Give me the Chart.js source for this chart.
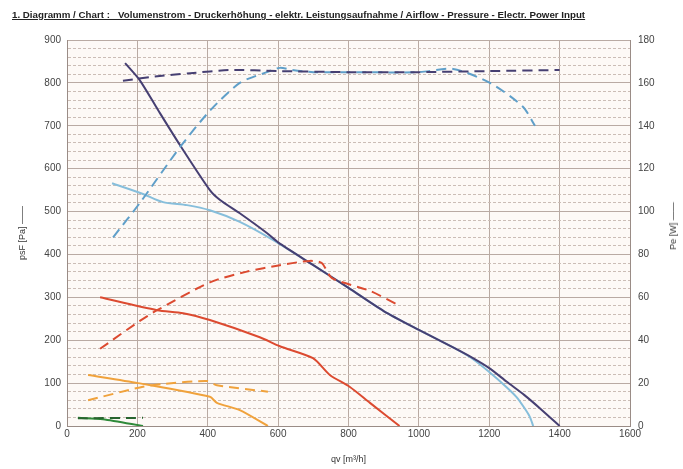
<!DOCTYPE html>
<html>
<head>
<meta charset="utf-8">
<script src="https://cdn.jsdelivr.net/npm/chart.js@4.4.1/dist/chart.umd.min.js"></script>
<style>
  body { margin: 0; background: #fff; }
  #wrap { position: relative; width: 683px; height: 469px; overflow: hidden; }
  #title { position: absolute; left: 12px; top: 10px; font: bold 9px "Liberation Sans", Arial, sans-serif;
           color: #222; text-decoration: underline; white-space: pre; transform-origin: 0 0; }
  #pe { position: absolute; left: 673px; top: 226px; font: 9px "Liberation Sans", Arial, sans-serif; color: #333;
        white-space: pre; transform: translate(-50%, -50%) rotate(-90deg); }
</style>
</head>
<body>
<div id="wrap">
  <div id="title">1. Diagramm / Chart :   Volumenstrom - Druckerhöhung - elektr. Leistungsaufnahme / Airflow - Pressure - Electr. Power Input</div>
  <canvas id="myChart" width="683" height="469"></canvas>
  <div id="pe">Pe [W] ——</div>
</div>
<script>
// pressure curves (left axis, psF [Pa])
const qNavy = [165, 207, 260, 321, 406, 435, 491, 568, 600, 700, 800, 900, 1000, 1100, 1150, 1200, 1250, 1300, 1350, 1400];
const pNavy = [846, 806, 735, 655, 550, 527, 496, 450, 428, 375, 322, 268, 224, 182, 160, 135, 103, 72, 37, 0];
const qLight = [128, 216, 273, 341, 406, 491, 585, 700, 800, 900, 1000, 1100, 1150, 1200, 1250, 1277, 1300, 1315, 1325];
const pLight = [566, 541, 522, 515, 503, 476, 434, 375, 322, 268, 224, 182, 158, 126, 90, 68, 42, 22, 0];
const qRed = [94, 256, 330, 406, 548, 605, 699, 747, 804, 861, 945];
const pRed = [300, 270, 263, 247, 207, 186, 158, 119, 91, 54, 0];
const qOrange = [60, 202, 406, 426, 491, 571];
const pOrange = [119, 100, 68, 54, 37, 0];
const qGreen = [31, 102, 216];
const pGreen = [19, 16, 0];

// power curves (right axis, Pe [W])
const qNavyW = [159, 250, 350, 463, 600, 800, 1000, 1200, 1400];
const wNavy = [161, 163, 164.5, 166, 165.5, 165, 165, 165.5, 166];
const qLightW = [131, 207, 321, 406, 491, 568, 605, 640, 700, 800, 1000, 1097, 1202, 1295, 1330];
const wLight = [88, 104, 130, 147, 160, 165, 167, 166, 165, 165, 165, 166.5, 160, 149, 140];
const qRedW = [94, 207, 256, 406, 511, 605, 690, 724, 753, 861, 946];
const wRed = [36, 49, 54, 67, 72, 75, 77, 76, 69, 63, 56];
const qOrangeW = [60, 207, 273, 398, 426, 571];
const wOrange = [12, 18, 19.6, 21, 19, 16];
const qGreenW = [31, 216];
const wGreen = [3.6, 3.8];

function pts(xs, ys) { return xs.map((x, i) => ({ x: x, y: ys[i] })); }

function line(xs, ys, color, axis, dashed) {
  return {
    data: pts(xs, ys), borderColor: color, backgroundColor: color, yAxisID: axis,
    borderWidth: 2, pointRadius: 0, tension: 0.25, fill: false,
    borderDash: dashed ? [10, 6] : []
  };
}

// title squeeze to reference width
const t = document.getElementById('title');
t.style.transform = 'scaleX(' + (573 / t.offsetWidth) + ')';

const areaBg = {
  id: 'areaBg',
  beforeDraw(chart) {
    const a = chart.chartArea, c = chart.ctx;
    c.save(); c.fillStyle = '#fdf9f6'; c.fillRect(a.left, a.top, a.right - a.left, a.bottom - a.top); c.restore();
  }
};

const font = { family: '"Liberation Sans", Arial, sans-serif', size: 10 };

new Chart(document.getElementById('myChart'), {
  type: 'line',
  data: {
    datasets: [
      line(qNavyW, wNavy, '#463f72', 'y2', true),
      line(qLightW, wLight, '#5f9fc9', 'y2', true),
      line(qRedW, wRed, '#dc4a30', 'y2', true),
      line(qOrangeW, wOrange, '#f0a23c', 'y2', true),
      line(qGreenW, wGreen, '#27642e', 'y2', true),
      line(qNavy, pNavy, '#463f72', 'y', false),
      line(qLight, pLight, '#86bedb', 'y', false),
      line(qRed, pRed, '#dc4a30', 'y', false),
      line(qOrange, pOrange, '#f0a23c', 'y', false),
      line(qGreen, pGreen, '#2f8a3a', 'y', false)
    ]
  },
  options: {
    responsive: false,
    animation: false,
    layout: { padding: { top: 40, left: 17, right: 0, bottom: 0 } },
    plugins: { legend: { display: false }, tooltip: { enabled: false } },
    scales: {
      x: {
        type: 'linear', min: 0, max: 1600,
        ticks: { stepSize: 200, color: '#444', font: font, padding: 2, callback: v => v },
        grid: { color: '#b9aaa3', lineWidth: 1, drawTicks: false },
        border: { color: '#9a8c86' },
        title: { display: true, text: 'qv [m³/h]', color: '#333', font: { family: font.family, size: 9 }, padding: { top: 12 } },
        afterFit(s) { s.height = 43; }
      },
      y: {
        min: 0, max: 900, position: 'left',
        ticks: {
          stepSize: 20, autoSkip: false, color: '#444', font: font, padding: 6,
          callback: v => (v % 100 === 0 ? v : '')
        },
        grid: {
          drawTicks: false, lineWidth: 1,
          color: c => (c.tick && c.tick.value % 100 === 0 ? '#b9aaa3' : '#cbbdb6')
        },
        border: { color: '#9a8c86', dash: c => (c.tick && c.tick.value % 100 === 0 ? [] : [3, 2]) },
        title: { display: true, text: 'psF [Pa] ——', color: '#333', font: { family: font.family, size: 9 }, padding: { top: 0, bottom: 0 } },
        afterFit(s) { s.width = 50; }
      },
      y2: {
        min: 0, max: 180, position: 'right',
        ticks: { stepSize: 20, color: '#444', font: font, padding: 8 },
        grid: { display: false, drawTicks: false },
        border: { color: '#9a8c86' },
        afterFit(s) { s.width = 53; }
      }
    }
  },
  plugins: [areaBg]
});
</script>
</body>
</html>
